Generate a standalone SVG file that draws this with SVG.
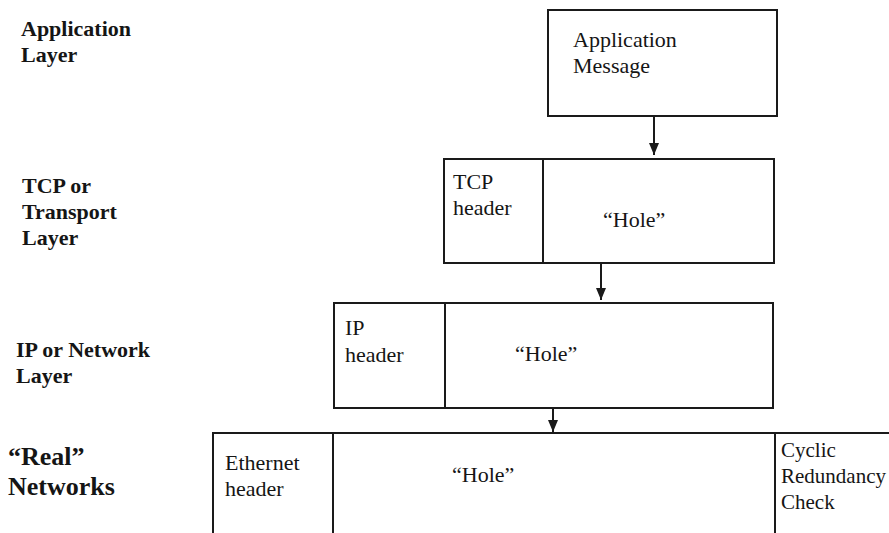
<svg xmlns="http://www.w3.org/2000/svg" width="889" height="533" viewBox="0 0 889 533">
  <style>
    .box { fill: none; stroke: #1a1a1a; stroke-width: 2; }
    .rule { stroke: #1a1a1a; stroke-width: 2; }
    .conn { stroke: #1a1a1a; stroke-width: 2; fill: none; }
    .lbl { font-family: "Liberation Serif", "Times New Roman", serif; font-size: 22px; fill: #151515; }
    .crc { font-size: 21px; }
    .layer { font-family: "Liberation Serif", "Times New Roman", serif; font-size: 22px; font-weight: bold; fill: #151515; }
    .layer-big { font-family: "Liberation Serif", "Times New Roman", serif; font-size: 26px; font-weight: bold; fill: #151515; }
  </style>
  <defs>
    <marker id="arrow" viewBox="0 0 12 10" refX="12" refY="5" markerWidth="12" markerHeight="10" markerUnits="userSpaceOnUse" orient="auto">
      <path d="M0,0 L12,5 L0,10 Z" fill="#1a1a1a"/>
    </marker>
  </defs>
  <rect width="889" height="533" fill="#ffffff"/>

  <!-- layer captions -->
  <g id="layer-labels">
    <text class="layer" x="21" y="36">Application</text>
    <text class="layer" x="21" y="62">Layer</text>
    <text class="layer" x="22" y="193">TCP or</text>
    <text class="layer" x="22" y="219">Transport</text>
    <text class="layer" x="22" y="245">Layer</text>
    <text class="layer" x="16" y="357">IP or Network</text>
    <text class="layer" x="16" y="383">Layer</text>
    <text class="layer-big" x="8" y="465">“Real”</text>
    <text class="layer-big" x="8" y="495">Networks</text>
  </g>

  <!-- application message -->
  <g id="app-message">
    <rect class="box" x="548" y="10" width="229" height="106"/>
    <text class="lbl" x="573" y="47">Application</text>
    <text class="lbl" x="573" y="73">Message</text>
  </g>

  <!-- TCP segment -->
  <g id="tcp-segment">
    <rect class="box" x="444" y="159" width="330" height="104"/>
    <line class="rule" x1="543" y1="159" x2="543" y2="263"/>
    <text class="lbl" x="453" y="189">TCP</text>
    <text class="lbl" x="453" y="215">header</text>
    <text class="lbl" x="603" y="227">“Hole”</text>
  </g>

  <!-- IP packet -->
  <g id="ip-packet">
    <rect class="box" x="334" y="303" width="439" height="105"/>
    <line class="rule" x1="445" y1="303" x2="445" y2="408"/>
    <text class="lbl" x="345" y="335">IP</text>
    <text class="lbl" x="345" y="362">header</text>
    <text class="lbl" x="515" y="361">“Hole”</text>
  </g>

  <!-- Ethernet frame (runs off the bottom and right edges) -->
  <g id="ethernet-frame">
    <line class="rule" x1="212" y1="433" x2="889" y2="433"/>
    <line class="rule" x1="213" y1="432" x2="213" y2="533"/>
    <line class="rule" x1="333" y1="433" x2="333" y2="533"/>
    <line class="rule" x1="775" y1="433" x2="775" y2="533"/>
    <text class="lbl" x="225" y="470">Ethernet</text>
    <text class="lbl" x="225" y="496">header</text>
    <text class="lbl" x="452" y="482">“Hole”</text>
    <text class="lbl crc" x="781" y="457">Cyclic</text>
    <text class="lbl crc" x="781" y="483">Redundancy</text>
    <text class="lbl crc" x="781" y="509">Check</text>
  </g>

  <!-- encapsulation arrows -->
  <g id="connectors">
    <line class="conn" x1="654" y1="116" x2="654" y2="155" marker-end="url(#arrow)"/>
    <line class="conn" x1="601" y1="263" x2="601" y2="300" marker-end="url(#arrow)"/>
    <line class="conn" x1="553" y1="408" x2="553" y2="432" marker-end="url(#arrow)"/>
  </g>
</svg>
